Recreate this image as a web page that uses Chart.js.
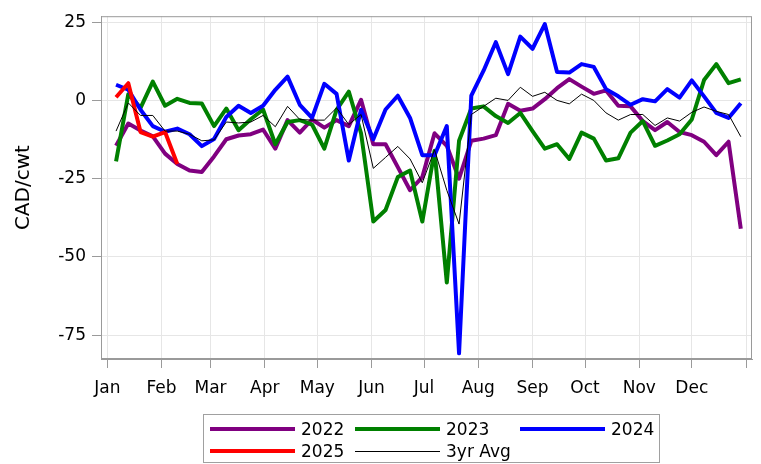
<!DOCTYPE html>
<html>
<head>
<meta charset="utf-8">
<script src="https://cdn.jsdelivr.net/npm/chart.js@4.4.1/dist/chart.umd.min.js"></script>
<style>
  html, body { margin: 0; padding: 0; background: #fff; }
  #wrap { position: relative; width: 761px; height: 464px; }
  #legend {
    position: absolute; left: 203px; top: 414px; width: 455px; height: 47px;
    border: 1px solid #a0a0a0; font: 17px "DejaVu Sans", sans-serif; color: #000;
  }
  #legend .item { position: absolute; height: 20px; display: flex; align-items: center; white-space: nowrap; }
  #legend .swatch { display: inline-block; width: 85px; margin-right: 6px; }
</style>
</head>
<body>
<div id="wrap">
  <canvas id="chart" width="761" height="464"></canvas>
  <div id="legend"></div>
</div>
<script>
// day of year for each weekly observation
const weekDays = [5, 12, 19, 26, 33, 40, 47, 54, 61, 68, 75, 82, 89, 96, 103, 110, 117, 124, 131, 138,
  145, 152, 159, 166, 173, 180, 187, 194, 201, 208, 215, 222, 229, 236, 243, 250, 257, 264, 271, 278,
  285, 292, 299, 306, 313, 320, 327, 334, 341, 348, 355, 362];

const monthStarts = [0, 31, 59, 90, 120, 151, 181, 212, 243, 273, 304, 334, 365];
const monthLabels = ['Jan', 'Feb', 'Mar', 'Apr', 'May', 'Jun', 'Jul', 'Aug', 'Sep', 'Oct', 'Nov', 'Dec', ''];
const yTicks = [-75, -50, -25, 0, 25];

const y2022 = [-14.5, -7.4, -9.6, -11.5, -17, -20.3, -22.4, -22.9, -17.9, -12.4, -11.2, -10.8, -9.3, -15.4,
  -6.3, -10.3, -6.1, -8.7, -6.3, -8.2, 0.2, -14, -14, -21.3, -28.7, -24.5, -10.5, -14.5, -25, -12.9,
  -12.2, -11.1, -1.1, -3.3, -2.6, 0.4, 3.9, 6.8, 4.4, 2.1, 3.2, -1.7, -1.9, -6.6, -9.5, -6.9, -10.1,
  -11.1, -13.2, -17.5, -13.2, -41];
const y2023 = [-19.5, 2, -2.4, 6, -1.7, 0.5, -0.8, -1, -8.2, -2.6, -9.5, -6, -2.9, -14, -6.9, -6.3, -7.7,
  -15.4, -3, 2.8, -10.5, -38.7, -35, -24.5, -22.4, -38.7, -16.1, -58.2, -12.9, -2.6, -1.9, -5, -7.2, -4,
  -9.8, -15.4, -14, -18.7, -10.3, -12.2, -19.2, -18.5, -10.3, -6.6, -14.5, -12.8, -10.8, -6.1, 6.5,
  11.6, 5.5, 6.7];
const y2024 = [5, 3.4, -3, -8.2, -10, -9, -10.8, -14.6, -12.3, -5.3, -1.7, -4, -1.7, 3.4, 7.6, -1.4, -5.6,
  5.3, 2.1, -19.2, -3, -12.4, -2.9, 1.5, -5.6, -17.5, -17.5, -8.2, -80.8, 1.5, 9.5, 18.6, 8.4, 20.4,
  16.5, 24.4, 9.1, 8.9, 11.6, 10.7, 3.6, 1.3, -1.4, 0.4, -0.3, 3.6, 0.9, 6.4, 1.3, -4, -5.6, -0.9];
const y2025 = [1, 5.5, -10.1, -11.6, -10.1, -20.3];
const avg3yr = [-9.8, -0.8, -4.8, -4.8, -9.8, -9.8, -10.8, -12.9, -12.6, -6.9, -7.2, -6.9, -4.8, -8.4, -1.9,
  -6.1, -6.3, -6.3, -2.4, -7.7, -4.5, -21.7, -18.2, -14.7, -18.7, -26.3, -15.8, -28.7, -39.5, -4.5,
  -1.9, 0.7, 0, 4.2, 1.3, 2.6, 0, -1.1, 2, 0, -4, -6.3, -4.5, -4.5, -8, -5.6, -6.6, -3.8, -2.1, -3.5,
  -4.5, -11.6];

const FONT = '"DejaVu Sans", sans-serif';

function pts(values) {
  return values.map((v, i) => ({ x: weekDays[i], y: v }));
}

function series(label, values, color, width, order) {
  return {
    label, data: pts(values), borderColor: color, backgroundColor: color,
    borderWidth: width, pointRadius: 0, tension: 0, order, borderJoinStyle: 'round',
  };
}

// grey box round the plot area, like the original frame
const frame = {
  id: 'frame',
  beforeDatasetsDraw(chart) {
    const { ctx, chartArea: a } = chart;
    ctx.save();
    ctx.strokeStyle = '#9a9a9a';
    ctx.lineWidth = 1;
    ctx.strokeRect(a.left + 0.5, a.top + 0.5, a.right - a.left - 1, a.bottom - a.top - 1);
    ctx.restore();
  },
};

const chart = new Chart(document.getElementById('chart'), {
  type: 'line',
  data: {
    datasets: [
      series('2022', y2022, '#800080', 4, 5),
      series('2023', y2023, '#008000', 4, 4),
      series('2024', y2024, '#0000ff', 4, 3),
      series('2025', y2025, '#ff0000', 4, 2),
      series('3yr Avg', avg3yr, '#000000', 1, 1),
    ],
  },
  options: {
    responsive: false,
    animation: false,
    layout: { padding: { top: 12, right: 9, bottom: 60, left: 0 } },
    plugins: { legend: { display: false }, tooltip: { enabled: false } },
    scales: {
      x: {
        type: 'linear',
        min: -3.6,
        max: 368.4,
        afterBuildTicks: s => { s.ticks = monthStarts.map(v => ({ value: v })); },
        afterFit: s => { s.height = 45; },
        ticks: {
          autoSkip: false, maxRotation: 0, padding: 10, color: '#000',
          font: { family: FONT, size: 17 },
          callback: v => monthLabels[monthStarts.indexOf(v)],
        },
        grid: { color: '#e6e6e6', tickColor: '#9a9a9a', tickLength: 9 },
        border: { color: '#9a9a9a' },
      },
      y: {
        min: -82.6,
        max: 26.9,
        afterBuildTicks: s => { s.ticks = yTicks.map(v => ({ value: v })); },
        afterFit: s => { s.width = 101; },
        ticks: { padding: 6, color: '#000', font: { family: FONT, size: 17 } },
        grid: { color: '#e6e6e6', tickColor: '#9a9a9a', tickLength: 9 },
        border: { color: '#9a9a9a' },
        title: {
          display: true, text: 'CAD/cwt', color: '#000',
          font: { family: FONT, size: 20 }, padding: { top: 12, bottom: 0 },
        },
      },
    },
  },
  plugins: [frame],
});

// legend below the plot, three columns as in the original
const legendPos = [[6, 98, 4], [151, 243, 4], [316, 408, 4], [6, 98, 26], [151, 243, 26]];
const legend = document.getElementById('legend');
chart.data.datasets.forEach((ds, i) => {
  const [lx, , ty] = legendPos[i];
  const item = document.createElement('div');
  item.className = 'item';
  item.style.left = lx + 'px';
  item.style.top = ty + 'px';
  const sw = document.createElement('span');
  sw.className = 'swatch';
  sw.style.height = ds.borderWidth + 'px';
  sw.style.background = ds.borderColor;
  const txt = document.createElement('span');
  txt.textContent = ds.label;
  item.appendChild(sw);
  item.appendChild(txt);
  legend.appendChild(item);
});
</script>
</body>
</html>
